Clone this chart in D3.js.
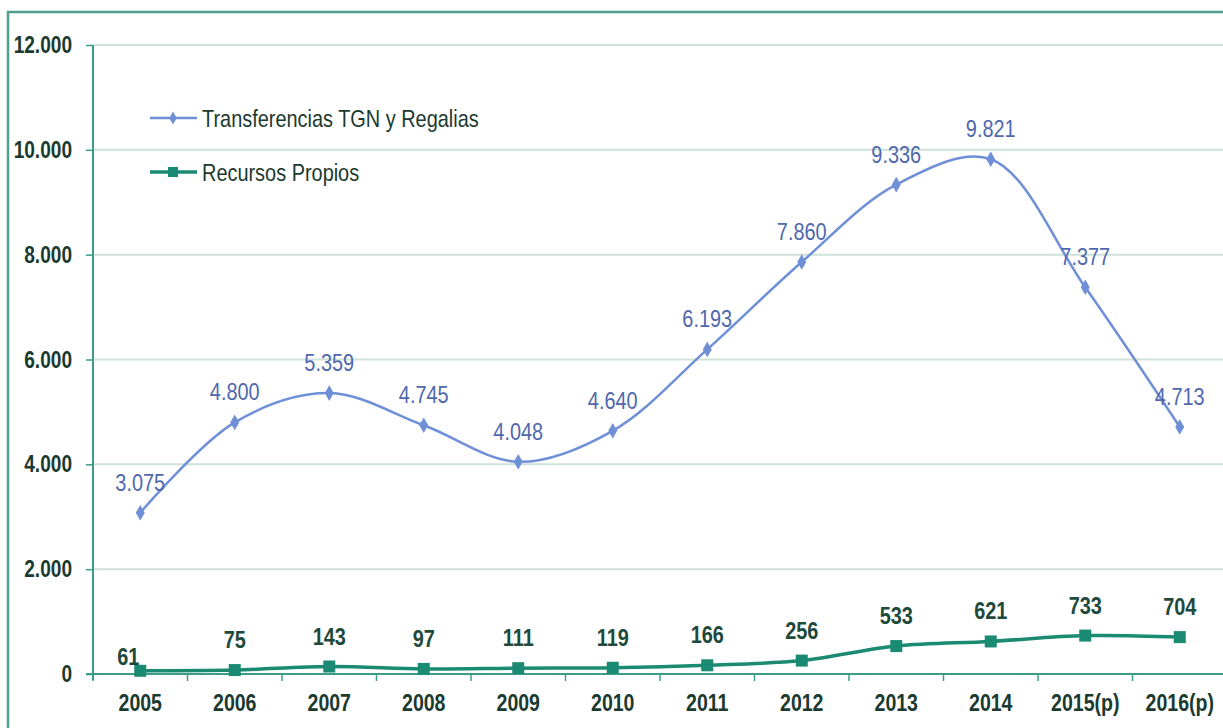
<!DOCTYPE html>
<html><head><meta charset="utf-8">
<script src="https://cdn.jsdelivr.net/npm/d3@7"></script>
<style>
html,body{margin:0;padding:0;background:#fff;}
svg{display:block;}
text{font-family:"Liberation Sans Narrow","Arial Narrow","Liberation Sans",Arial,sans-serif;}
</style></head>
<body><svg id="chart" width="1223" height="728"></svg>
<script>
const categories = ["2005","2006","2007","2008","2009","2010","2011","2012","2013","2014","2015(p)","2016(p)"];
const transferencias = [3075,4800,5359,4745,4048,4640,6193,7860,9336,9821,7377,4713];
const recursosPropios = [61,75,143,97,111,119,166,256,533,621,733,704];
const yTicks = [0,2000,4000,6000,8000,10000,12000];
const seriesNames = ["Transferencias TGN y Regalias","Recursos Propios"];

const blue = "#6f8fd6", blueLabel = "#4f68ad", green = "#1b8a72", greenLabel = "#1e4a3c", axisCol = "#3d9c88", gridCol = "#cfe2da", darkText = "#1b3a2f";

const svg = d3.select("#chart");
const plotLeft = 93, plotBottom = 674, plotTop = 45, bandW = 94.5;
const x = d3.scaleBand().domain(categories).range([plotLeft, plotLeft + bandW*categories.length]).padding(0);
const y = d3.scaleLinear().domain([0,12000]).range([plotBottom, plotTop]);
const loc = d3.formatLocale({decimal:",", thousands:".", grouping:[3], currency:["",""]});
const fmt = loc.format(",");
const SX = 0.83; // horizontal squeeze to imitate a narrow typeface

function narrow(sel, fx, fy, sx){
  sel.attr("transform",(d,i)=>`translate(${fx(d,i)},${fy(d,i)}) scale(${sx},1)`);
  return sel;
}

// frame
svg.append("rect").attr("x",8).attr("y",12).attr("width",1240).attr("height",740)
  .attr("fill","#fff").attr("stroke","#4f9e8c").attr("stroke-width",2.5);

// gridlines
svg.append("g").selectAll("line").data(yTicks.filter(d=>d>0)).join("line")
  .attr("x1",plotLeft).attr("x2",1223).attr("y1",d=>y(d)).attr("y2",d=>y(d))
  .attr("stroke",gridCol).attr("stroke-width",2);

// y axis
const yAxis = svg.append("g").attr("transform",`translate(${plotLeft},0)`)
  .call(d3.axisLeft(y).tickValues(yTicks).tickFormat("").tickSize(7));
yAxis.select(".domain").attr("stroke",axisCol).attr("stroke-width",2).attr("d",`M0,${y(12000)}V${plotBottom+6}`);
yAxis.selectAll(".tick line").attr("stroke",axisCol).attr("stroke-width",1.5);
narrow(svg.append("g").selectAll("text").data(yTicks).join("text"), ()=>72, d=>y(d)+8, SX)
  .attr("text-anchor","end").attr("fill",darkText).attr("font-size",23).attr("font-weight","bold")
  .text(fmt);

// x axis
const xg = svg.append("g").attr("transform",`translate(0,${plotBottom})`);
xg.append("line").attr("x1",plotLeft-7).attr("x2",1223).attr("stroke",axisCol).attr("stroke-width",2);
xg.selectAll("line.tk").data(categories).join("line").attr("class","tk")
  .attr("x1",d=>x(d)).attr("x2",d=>x(d)).attr("y1",0).attr("y2",7)
  .attr("stroke",axisCol).attr("stroke-width",1.5);
narrow(xg.selectAll("text").data(categories).join("text"), d=>x(d)+x.bandwidth()/2, ()=>37, 0.85)
  .attr("text-anchor","middle").attr("fill",darkText).attr("font-size",23).attr("font-weight","bold").text(d=>d);

const cx = d => x(d) + x.bandwidth()/2;
const line = d3.line().curve(d3.curveCatmullRom.alpha(0.5)).x(d=>cx(d[0])).y(d=>y(d[1]));

// green series
const gData = categories.map((c,i)=>[c,recursosPropios[i]]);
svg.append("path").attr("d",line(gData)).attr("fill","none").attr("stroke",green).attr("stroke-width",3.5);
svg.selectAll("rect.gm").data(gData).join("rect").attr("class","gm")
  .attr("x",d=>cx(d[0])-6).attr("y",d=>y(d[1])-6).attr("width",12).attr("height",12).attr("fill",green);
narrow(svg.selectAll("text.gl").data(gData).join("text").attr("class","gl"),
  (d,i)=>cx(d[0]) + (i===0?-12:0), (d,i)=>y(d[1]) - (i===0?6:22), SX)
  .attr("text-anchor","middle").attr("fill",greenLabel).attr("font-size",24).attr("font-weight","bold")
  .text(d=>fmt(d[1]));

// blue series
const bData = categories.map((c,i)=>[c,transferencias[i]]);
svg.append("path").attr("d",line(bData)).attr("fill","none").attr("stroke",blue).attr("stroke-width",2.5);
svg.selectAll("path.bm").data(bData).join("path").attr("class","bm")
  .attr("d",d3.symbol(d3.symbolDiamond,70)).attr("transform",d=>`translate(${cx(d[0])},${y(d[1])})`)
  .attr("fill",blue);
narrow(svg.selectAll("text.bl").data(bData).join("text").attr("class","bl"),
  d=>cx(d[0]), d=>y(d[1]) - 22, SX)
  .attr("text-anchor","middle").attr("fill",blueLabel).attr("font-size",24)
  .text(d=>fmt(d[1]));

// legend
const lg = svg.append("g");
const legendItems = [{name:seriesNames[0],col:blue,type:"d",w:2.5},{name:seriesNames[1],col:green,type:"s",w:3.5}];
legendItems.forEach((it,i)=>{
  const ly = 118 + i*54;
  lg.append("line").attr("x1",150).attr("x2",197).attr("y1",ly).attr("y2",ly).attr("stroke",it.col).attr("stroke-width",it.w);
  if(it.type==="d") lg.append("path").attr("d",d3.symbol(d3.symbolDiamond,50)).attr("transform",`translate(173,${ly})`).attr("fill",it.col);
  else lg.append("rect").attr("x",168).attr("y",ly-5).attr("width",10).attr("height",10).attr("fill",it.col);
  lg.append("text").attr("transform",`translate(202,${ly+9}) scale(${SX},1)`).attr("fill",darkText)
    .attr("font-size",24).text(it.name);
});
</script></body></html>
